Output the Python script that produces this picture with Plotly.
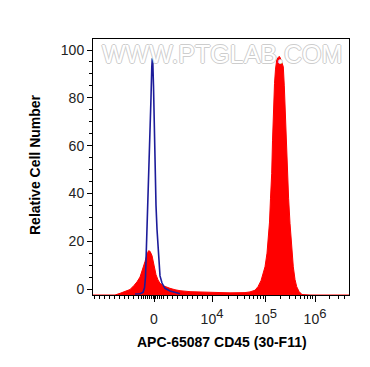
import plotly.graph_objects as go

# x values are display channels of the biexponential axis (0 .. 256 across the plot)
red_x = [0, 22, 27, 32, 37, 41, 44, 47, 50, 52, 54, 55.5, 57, 59, 61, 63, 65, 67, 70, 73,
         77, 82, 87, 97, 107, 122, 137, 152, 157, 162, 165, 168, 170, 172, 174, 175.5,
         176.5, 177.5, 178.7, 179.5, 180.3, 181.5, 182.5, 183.7, 185, 186, 187, 188, 189,
         190.3, 191.3, 192, 193.2, 194.3, 195.6, 197, 198.5, 200.3, 202, 203.7, 206, 209,
         217, 256]
red_y = [-2.5, -2.5, -1.8, -1.0, -0.2, 1.5, 3, 5, 8.5, 11.5, 14.5, 16, 15.8, 14, 10, 6,
         3.8, 2.4, 1.4, 0.8, 0.3, -0.3, -0.7, -1.1, -1.3, -1.5, -1.6, -1.5, -1.2, -0.5, 1,
         3.5, 6.5, 9.3, 15, 22, 28, 38, 48.4, 62, 76, 86, 92, 95.8, 96.8, 97.3, 97, 96, 95,
         93, 85, 76.3, 62, 48.4, 38, 27.5, 17, 9.3, 4, 1, -1, -2.3, -2.5, -2.5]

blue_x = [42, 47, 50, 51.5, 52.5, 53.7, 55, 56, 57, 58, 58.8, 59.3, 59.8, 60.5, 61.3,
          62.2, 63, 64, 65, 66, 67, 69, 72, 77, 83, 87]
blue_y = [-2.1, -2.0, -1.4, 0.5, 5, 20, 35, 48, 62, 80, 93, 96.5, 95, 85, 65, 48, 35, 25,
          17, 10, 5.5, 2.5, 0.3, -0.8, -1.6, -2.0]

x_tick_vals = [61, 119, 172.7, 222]
x_tick_text = ["0",
               "10<sup><span style='font-size:13px'>4</span></sup>",
               "10<sup><span style='font-size:13px'>5</span></sup>",
               "10<sup><span style='font-size:13px'>6</span></sup>"]
x_minor_vals = [1, 6, 11, 16, 21, 26, 31, 35, 40, 45,
                48, 50, 52, 54, 56, 58, 60, 62, 64, 66, 68, 70,
                74, 79, 84, 89, 94, 99, 104, 109, 114,
                135.2, 144.6, 151.3, 156.5, 160.8, 164.4, 167.5, 170.2,
                187.5, 196.2, 202.4, 207.2, 211.1, 214.4, 217.2, 219.7,
                236.8, 245.5, 251.7]
y_tick_vals = [0, 20, 40, 60, 80, 100]

X_RANGE = [0, 256]
Y_RANGE = [-2.5, 104.6]

fig = go.Figure()
# baseline at the bottom of the plot for the filled histogram
fig.add_trace(go.Scatter(x=[X_RANGE[0], X_RANGE[1]], y=[Y_RANGE[0], Y_RANGE[0]],
                         mode="lines", line=dict(width=0, color="rgba(0,0,0,0)"),
                         hoverinfo="skip", showlegend=False))
fig.add_trace(go.Scatter(x=red_x, y=red_y, mode="lines", fill="tonexty",
                         fillcolor="#ff0000", line=dict(color="#ff0000", width=1),
                         showlegend=False))
fig.add_trace(go.Scatter(x=blue_x, y=blue_y, mode="lines",
                         line=dict(color="#1c1c9a", width=1.6), showlegend=False))

font = "Liberation Sans, Arial, sans-serif"
# the page body adds an 8px offset, so the figure is 8px smaller
OFF = 8
L, T, PW, PH = 93 - OFF, 39 - OFF, 256, 256
W, H = 370 - OFF, 367 - OFF


def px_x(px):
    return (px - 93) / PW


def px_y(py):
    return (295 - py) / PH


fig.update_layout(
    width=W, height=H,
    margin=dict(l=L, r=W - L - PW, t=T, b=H - T - PH, pad=0),
    paper_bgcolor="white", plot_bgcolor="white",
    showlegend=False,
    font=dict(family=font, color="#222"),
    xaxis=dict(range=X_RANGE, showgrid=False, zeroline=False,
               showline=True, linecolor="black", linewidth=1, mirror=True,
               ticks="outside", ticklen=6, tickcolor="black", tickwidth=1,
               tickmode="array", tickvals=x_tick_vals, ticktext=x_tick_text,
               tickfont=dict(size=14, color="#222"), ticklabelstandoff=5,
               minor=dict(tickmode="array", tickvals=x_minor_vals, ticks="outside",
                          ticklen=3, tickcolor="black", tickwidth=1)),
    yaxis=dict(range=Y_RANGE, showgrid=False, zeroline=False,
               showline=True, linecolor="black", linewidth=1, mirror=True,
               ticks="outside", ticklen=5, tickcolor="black", tickwidth=1,
               tickmode="array", tickvals=y_tick_vals,
               tickfont=dict(size=14, color="#222"),
               minor=dict(dtick=5, tick0=0, ticks="outside", ticklen=3,
                          tickcolor="black", tickwidth=1)),
    annotations=[
        dict(text="WWW.PTGLAB.COM", xref="paper", yref="paper",
             x=px_x(221.7), y=px_y(54), showarrow=False,
             xanchor="center", yanchor="middle",
             font=dict(family=font, size=25, color="white",
                       shadow="1px 0 0 #cdcdcd, -1px 0 0 #cdcdcd, 0 1px 0 #cdcdcd, 0 -1px 0 #cdcdcd")),
        dict(text="<b>Relative Cell Number</b>", xref="paper", yref="paper",
             x=px_x(35), y=px_y(165), textangle=-90, showarrow=False,
             xanchor="center", yanchor="middle",
             font=dict(family=font, size=14, color="black")),
        dict(text="<b>APC-65087 CD45 (30-F11)</b>", xref="paper", yref="paper",
             x=px_x(222), y=px_y(342), showarrow=False,
             xanchor="center", yanchor="middle",
             font=dict(family=font, size=14, color="black")),
    ],
)

fig.write_html("out.html")
